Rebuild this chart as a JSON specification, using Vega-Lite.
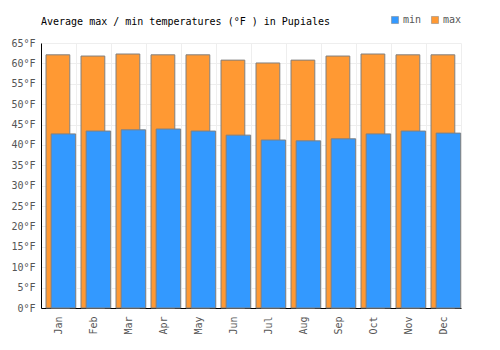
{
  "$schema": "https://vega.github.io/schema/vega-lite/v6.json",
  "width": 420,
  "height": 265,
  "autosize": {"type": "none"},
  "padding": {"left": 41, "top": 43, "right": 39, "bottom": 42},
  "background": "white",
  "config": {
    "view": {"stroke": null},
    "font": "DejaVu Sans Mono"
  },
  "title": {
    "text": "Average max / min temperatures (°F ) in Pupiales",
    "anchor": "start",
    "frame": "group",
    "font": "DejaVu Sans Mono",
    "fontSize": 10,
    "fontWeight": "normal",
    "color": "#000000",
    "offset": -12
  },
  "data": {
    "values": [
      {"month": "Jan", "min": 42.7, "max": 62.1},
      {"month": "Feb", "min": 43.4, "max": 61.8},
      {"month": "Mar", "min": 43.7, "max": 62.3},
      {"month": "Apr", "min": 43.9, "max": 62.1},
      {"month": "May", "min": 43.4, "max": 62.1},
      {"month": "Jun", "min": 42.4, "max": 60.8},
      {"month": "Jul", "min": 41.2, "max": 60.1},
      {"month": "Aug", "min": 41.0, "max": 60.8},
      {"month": "Sep", "min": 41.5, "max": 61.8},
      {"month": "Oct", "min": 42.7, "max": 62.3},
      {"month": "Nov", "min": 43.4, "max": 62.1},
      {"month": "Dec", "min": 42.9, "max": 62.1}
    ]
  },
  "encoding": {
    "x": {
      "field": "month",
      "type": "nominal",
      "sort": null,
      "scale": {"paddingInner": 0, "paddingOuter": 0},
      "axis": {
        "title": null,
        "labelAngle": -90,
        "labelAlign": "right",
        "labelBaseline": "middle",
        "labelFont": "DejaVu Sans Mono",
        "labelFontSize": 10,
        "labelColor": "#555555",
        "labelPadding": 8,
        "ticks": false,
        "tickBand": "extent",
        "grid": true,
        "gridColor": "#eeeeee",
        "domainColor": "#000000",
        "domainWidth": 1
      }
    }
  },
  "layer": [
    {
      "mark": {"type": "bar", "width": {"band": 0.68}, "xOffset": -0.6, "stroke": "#808080", "strokeWidth": 1},
      "encoding": {
        "y": {
          "field": "max",
          "type": "quantitative",
          "scale": {"domain": [0, 65], "nice": false},
          "axis": {
            "title": null,
            "values": [0, 5, 10, 15, 20, 25, 30, 35, 40, 45, 50, 55, 60, 65],
            "labelExpr": "datum.value + '°F'",
            "labelOverlap": false,
            "labelFont": "DejaVu Sans Mono",
            "labelFontSize": 10,
            "labelColor": "#555555",
            "ticks": false,
            "labelPadding": 6,
            "grid": true,
            "gridColor": "#eeeeee",
            "domainColor": "#000000",
            "domainWidth": 1
          }
        },
        "color": {
          "datum": "max",
          "scale": {"domain": ["min", "max"], "range": ["#3399ff", "#ff9933"]},
          "legend": {
            "title": null,
            "orient": "none",
            "direction": "horizontal",
            "legendX": 349,
            "legendY": -28,
            "symbolType": "square",
            "symbolSize": 50,
            "symbolStrokeColor": "#808080",
            "symbolStrokeWidth": 0.5,
            "labelFont": "DejaVu Sans Mono",
            "labelFontSize": 10,
            "labelColor": "#555555",
            "labelOffset": 3,
            "columnPadding": 8
          }
        }
      }
    },
    {
      "mark": {"type": "bar", "width": {"band": 0.7}, "xOffset": 4.9, "stroke": "#808080", "strokeWidth": 1},
      "encoding": {
        "y": {
          "field": "min",
          "type": "quantitative",
          "scale": {"domain": [0, 65], "nice": false},
          "axis": {
            "title": null,
            "values": [0, 5, 10, 15, 20, 25, 30, 35, 40, 45, 50, 55, 60, 65],
            "labelExpr": "datum.value + '°F'",
            "labelOverlap": false,
            "labelFont": "DejaVu Sans Mono",
            "labelFontSize": 10,
            "labelColor": "#555555",
            "ticks": false,
            "labelPadding": 6,
            "grid": true,
            "gridColor": "#eeeeee",
            "domainColor": "#000000",
            "domainWidth": 1
          }
        },
        "color": {"datum": "min"}
      }
    }
  ]
}
